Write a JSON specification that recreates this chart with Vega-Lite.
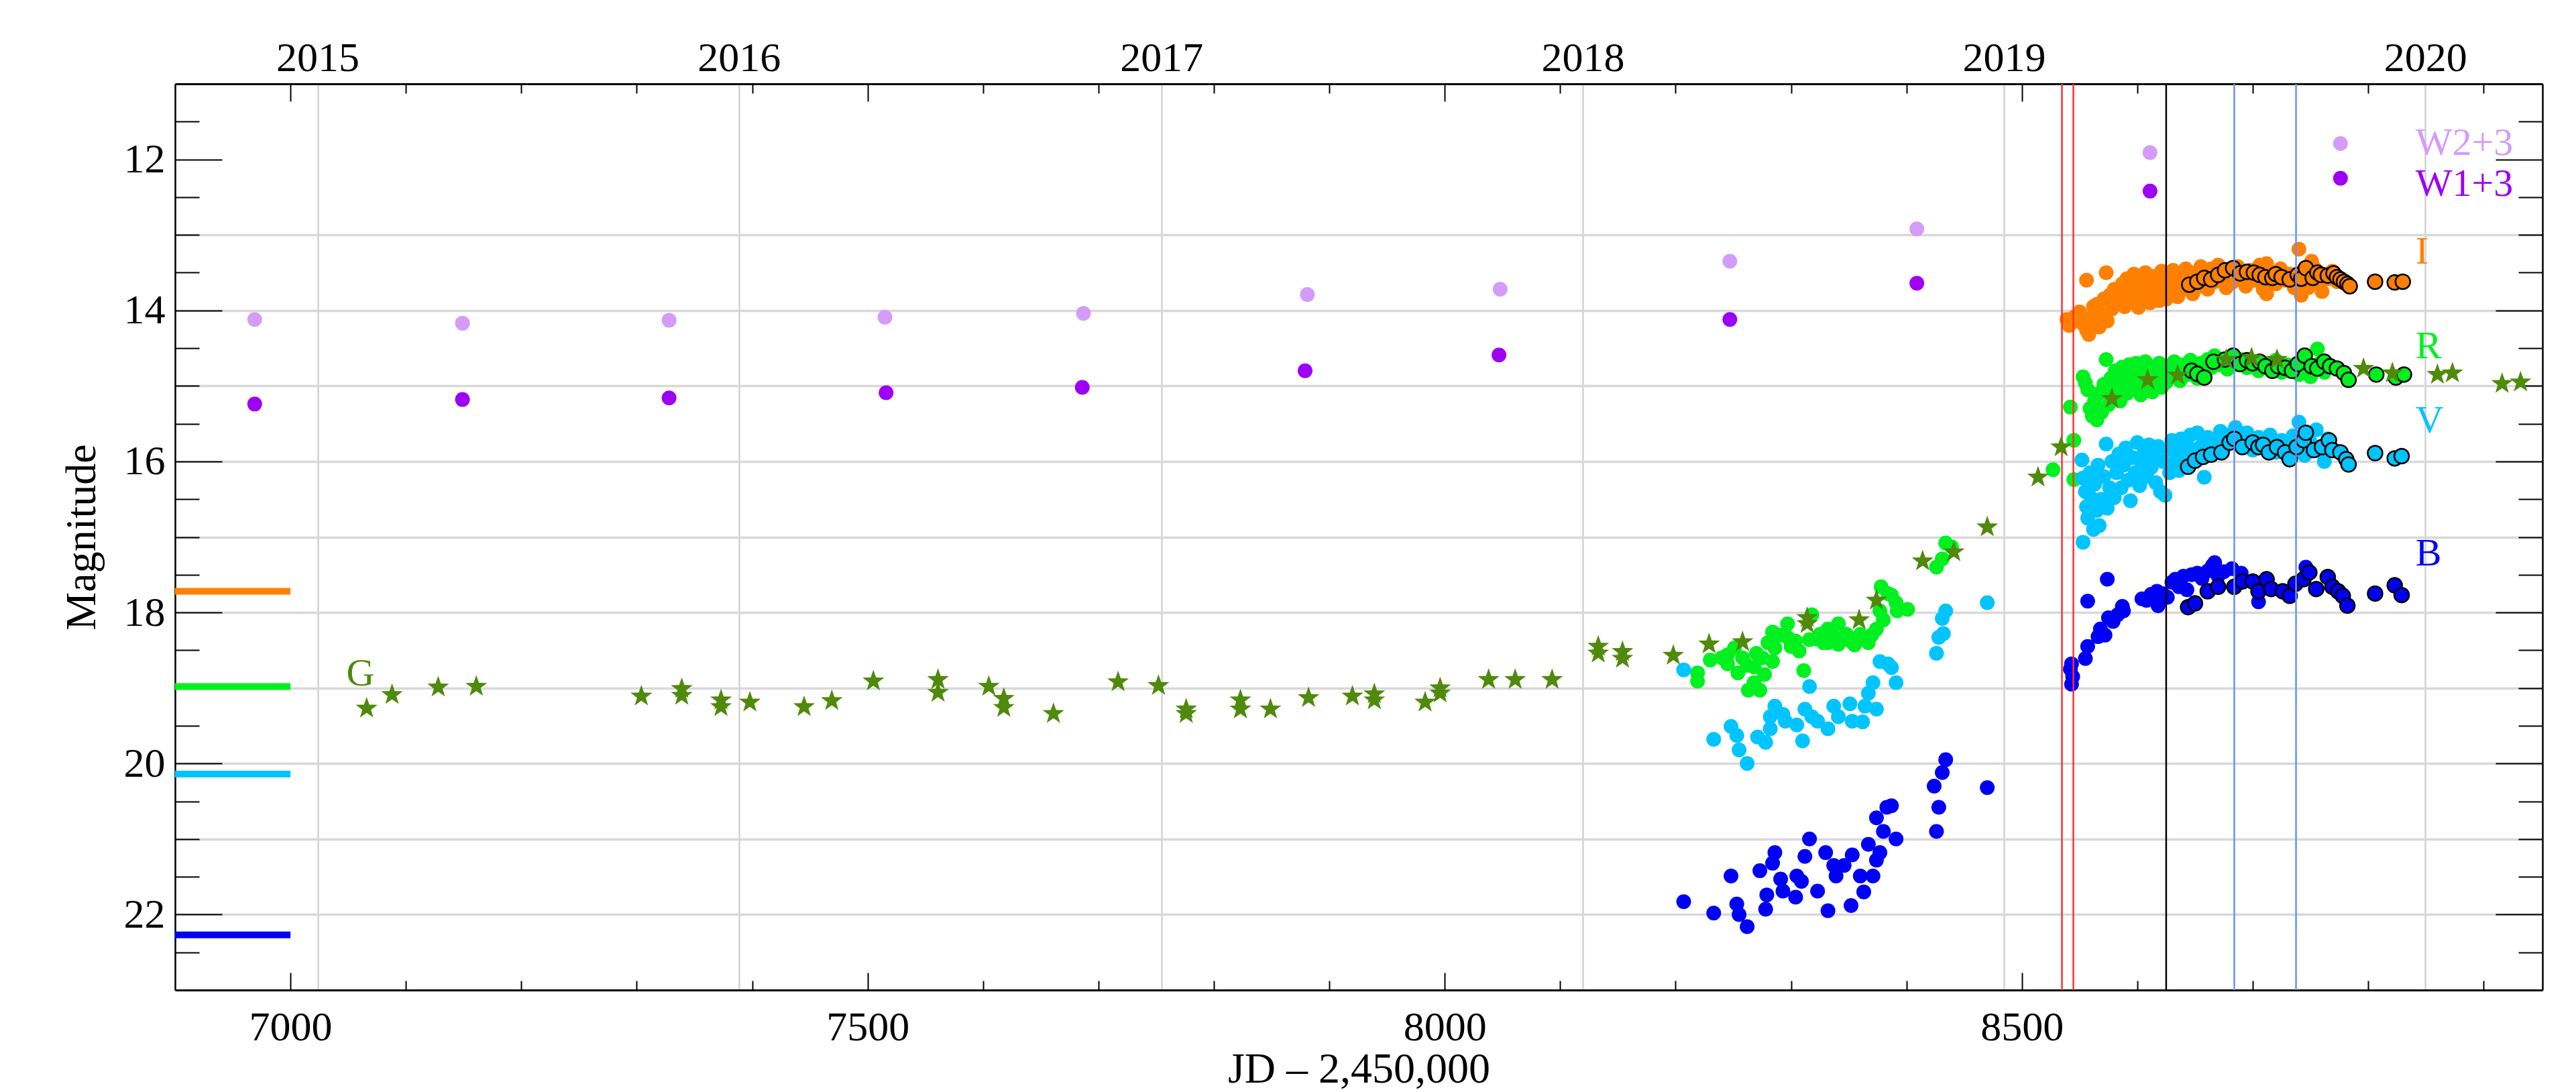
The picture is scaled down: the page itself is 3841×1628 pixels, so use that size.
{
  "$schema": "https://vega.github.io/schema/vega-lite/v6.json",
  "width": 3530,
  "height": 1351,
  "autosize": {"type": "none"},
  "padding": {"left": 261, "top": 125, "right": 50, "bottom": 152},
  "background": "#ffffff",
  "config": {
    "view": {"stroke": null},
    "font": "Liberation Serif",
    "axis": {
      "labelFont": "Liberation Serif", "titleFont": "Liberation Serif",
      "labelFontSize": 62, "titleFontSize": 64, "titleFontWeight": "normal",
      "labelColor": "#000000", "titleColor": "#000000",
      "domainColor": "#000000", "tickColor": "#000000",
      "tickWidth": 2, "domainWidth": 3,
      "labelOverlap": false, "labelFlush": false, "grid": false
    }
  },
  "datasets": {
    "wise": [
      {"band":"W2","jd":6969,"mag":14.12},{"band":"W2","jd":7149,"mag":14.17},{"band":"W2","jd":7328,"mag":14.13},{"band":"W2","jd":7515,"mag":14.09},{"band":"W2","jd":7687,"mag":14.04},{"band":"W2","jd":7881,"mag":13.79},{"band":"W2","jd":8048,"mag":13.72},{"band":"W2","jd":8247,"mag":13.35},{"band":"W2","jd":8409,"mag":12.92},{"band":"W2","jd":8611,"mag":11.91},{"band":"W2","jd":8776,"mag":11.79},
      {"band":"W1","jd":6969,"mag":15.24},{"band":"W1","jd":7149,"mag":15.18},{"band":"W1","jd":7328,"mag":15.16},{"band":"W1","jd":7516,"mag":15.09},{"band":"W1","jd":7686,"mag":15.02},{"band":"W1","jd":7879,"mag":14.8},{"band":"W1","jd":8047,"mag":14.59},{"band":"W1","jd":8247,"mag":14.12},{"band":"W1","jd":8409,"mag":13.64},{"band":"W1","jd":8611,"mag":12.42},{"band":"W1","jd":8776,"mag":12.25}
    ],
    "opt": [
      {"band":"I","jd":8539,"mag":14.12},{"band":"I","jd":8541,"mag":14.2},{"band":"I","jd":8544,"mag":14.15},{"band":"I","jd":8546,"mag":14.08},{"band":"I","jd":8550,"mag":14.02},{"band":"I","jd":8553,"mag":14.18},{"band":"I","jd":8556,"mag":14.26},{"band":"I","jd":8558,"mag":14.32},{"band":"I","jd":8556,"mag":13.6},{"band":"I","jd":8560,"mag":14.1},{"band":"I","jd":8562,"mag":13.95},{"band":"I","jd":8565,"mag":13.92},{"band":"I","jd":8567,"mag":14.22},{"band":"I","jd":8569,"mag":14.05},{"band":"I","jd":8571,"mag":13.85},{"band":"I","jd":8573,"mag":13.5},{"band":"I","jd":8574,"mag":14.14},{"band":"I","jd":8576,"mag":13.8},{"band":"I","jd":8578,"mag":13.98},{"band":"I","jd":8580,"mag":13.72},{"band":"I","jd":8583,"mag":13.9},{"band":"I","jd":8585,"mag":13.78},{"band":"I","jd":8587,"mag":13.65},{"band":"I","jd":8589,"mag":13.95},{"band":"I","jd":8591,"mag":13.58},{"band":"I","jd":8593,"mag":13.75},{"band":"I","jd":8595,"mag":13.88},{"band":"I","jd":8597,"mag":13.52},{"band":"I","jd":8599,"mag":13.68},{"band":"I","jd":8601,"mag":13.96},{"band":"I","jd":8603,"mag":13.6},{"band":"I","jd":8605,"mag":13.82},{"band":"I","jd":8607,"mag":13.5},{"band":"I","jd":8609,"mag":13.7},{"band":"I","jd":8611,"mag":13.9},{"band":"I","jd":8613,"mag":13.55},{"band":"I","jd":8615,"mag":13.78},{"band":"I","jd":8617,"mag":13.62},{"band":"I","jd":8619,"mag":13.87},{"band":"I","jd":8621,"mag":13.48},{"band":"I","jd":8623,"mag":13.7},{"band":"I","jd":8625,"mag":13.85},{"band":"I","jd":8627,"mag":13.58},{"band":"I","jd":8629,"mag":13.75},{"band":"I","jd":8631,"mag":13.47},{"band":"I","jd":8633,"mag":13.65},{"band":"I","jd":8635,"mag":13.82},{"band":"I","jd":8637,"mag":13.55},{"band":"I","jd":8640,"mag":13.72},{"band":"I","jd":8642,"mag":13.45},{"band":"I","jd":8645,"mag":13.62},{"band":"I","jd":8648,"mag":13.78},{"band":"I","jd":8650,"mag":13.5},{"band":"I","jd":8653,"mag":13.68},{"band":"I","jd":8655,"mag":13.42},{"band":"I","jd":8658,"mag":13.58},{"band":"I","jd":8661,"mag":13.72},{"band":"I","jd":8664,"mag":13.45},{"band":"I","jd":8667,"mag":13.62},{"band":"I","jd":8670,"mag":13.4},{"band":"I","jd":8674,"mag":13.55},{"band":"I","jd":8677,"mag":13.7},{"band":"I","jd":8680,"mag":13.48},{"band":"I","jd":8683,"mag":13.62},{"band":"I","jd":8687,"mag":13.42},{"band":"I","jd":8690,"mag":13.58},{"band":"I","jd":8694,"mag":13.68},{"band":"I","jd":8698,"mag":13.47},{"band":"I","jd":8702,"mag":13.6},{"band":"I","jd":8706,"mag":13.4},{"band":"I","jd":8709,"mag":13.72},{"band":"I","jd":8712,"mag":13.38},{"band":"I","jd":8712,"mag":13.78},{"band":"I","jd":8716,"mag":13.55},{"band":"I","jd":8720,"mag":13.65},{"band":"I","jd":8724,"mag":13.45},{"band":"I","jd":8728,"mag":13.6},{"band":"I","jd":8732,"mag":13.52},{"band":"I","jd":8736,"mag":13.7},{"band":"I","jd":8740,"mag":13.19},{"band":"I","jd":8742,"mag":13.8},{"band":"I","jd":8744,"mag":13.6},{"band":"I","jd":8748,"mag":13.7},{"band":"I","jd":8751,"mag":13.35},{"band":"I","jd":8754,"mag":13.45},{"band":"I","jd":8757,"mag":13.62},{"band":"I","jd":8760,"mag":13.75},{"band":"I","jd":8763,"mag":13.52},{"band":"I","jd":8766,"mag":13.58},{"band":"I","jd":8769,"mag":13.48},{"band":"I","jd":8773,"mag":13.62},
      {"band":"R","jd":8219,"mag":18.8},{"band":"R","jd":8219,"mag":18.91},{"band":"R","jd":8230,"mag":18.63},{"band":"R","jd":8240,"mag":18.6},{"band":"R","jd":8245,"mag":18.56},{"band":"R","jd":8245,"mag":18.68},{"band":"R","jd":8251,"mag":18.47},{"band":"R","jd":8254,"mag":18.8},{"band":"R","jd":8258,"mag":18.6},{"band":"R","jd":8262,"mag":18.7},{"band":"R","jd":8263,"mag":19.03},{"band":"R","jd":8268,"mag":18.72},{"band":"R","jd":8268,"mag":18.93},{"band":"R","jd":8270,"mag":18.54},{"band":"R","jd":8273,"mag":19.03},{"band":"R","jd":8275,"mag":18.6},{"band":"R","jd":8277,"mag":18.82},{"band":"R","jd":8280,"mag":18.4},{"band":"R","jd":8284,"mag":18.65},{"band":"R","jd":8284,"mag":18.26},{"band":"R","jd":8286,"mag":18.47},{"band":"R","jd":8290,"mag":18.3},{"band":"R","jd":8297,"mag":18.15},{"band":"R","jd":8297,"mag":18.33},{"band":"R","jd":8300,"mag":18.45},{"band":"R","jd":8304,"mag":18.38},{"band":"R","jd":8307,"mag":18.51},{"band":"R","jd":8311,"mag":18.77},{"band":"R","jd":8316,"mag":18.36},{"band":"R","jd":8318,"mag":18.03},{"band":"R","jd":8322,"mag":18.35},{"band":"R","jd":8325,"mag":18.29},{"band":"R","jd":8328,"mag":18.4},{"band":"R","jd":8332,"mag":18.22},{"band":"R","jd":8332,"mag":18.4},{"band":"R","jd":8336,"mag":18.3},{"band":"R","jd":8341,"mag":18.15},{"band":"R","jd":8341,"mag":18.42},{"band":"R","jd":8345,"mag":18.35},{"band":"R","jd":8348,"mag":18.29},{"band":"R","jd":8352,"mag":18.38},{"band":"R","jd":8355,"mag":18.43},{"band":"R","jd":8360,"mag":18.29},{"band":"R","jd":8362,"mag":18.35},{"band":"R","jd":8367,"mag":18.4},{"band":"R","jd":8370,"mag":18.3},{"band":"R","jd":8374,"mag":18.22},{"band":"R","jd":8377,"mag":17.98},{"band":"R","jd":8378,"mag":17.66},{"band":"R","jd":8380,"mag":18.1},{"band":"R","jd":8384,"mag":17.75},{"band":"R","jd":8387,"mag":17.77},{"band":"R","jd":8391,"mag":17.87},{"band":"R","jd":8392,"mag":17.98},{"band":"R","jd":8401,"mag":17.96},{"band":"R","jd":8426,"mag":17.4},{"band":"R","jd":8431,"mag":17.29},{"band":"R","jd":8434,"mag":17.08},{"band":"R","jd":8439,"mag":17.13},
      {"band":"R","jd":8527,"mag":16.11},{"band":"R","jd":8545,"mag":15.72},{"band":"R","jd":8545,"mag":16.24},{"band":"R","jd":8542,"mag":15.28},{"band":"R","jd":8553,"mag":14.88},{"band":"R","jd":8555,"mag":14.96},{"band":"R","jd":8557,"mag":15.05},{"band":"R","jd":8559,"mag":15.3},{"band":"R","jd":8561,"mag":15.4},{"band":"R","jd":8563,"mag":15.2},{"band":"R","jd":8565,"mag":15.45},{"band":"R","jd":8567,"mag":15.1},{"band":"R","jd":8569,"mag":15.35},{"band":"R","jd":8571,"mag":14.98},{"band":"R","jd":8573,"mag":14.65},{"band":"R","jd":8575,"mag":15.25},{"band":"R","jd":8577,"mag":14.9},{"band":"R","jd":8579,"mag":15.12},{"band":"R","jd":8581,"mag":14.8},{"band":"R","jd":8583,"mag":15.02},{"band":"R","jd":8585,"mag":15.2},{"band":"R","jd":8587,"mag":14.75},{"band":"R","jd":8589,"mag":14.92},{"band":"R","jd":8591,"mag":15.1},{"band":"R","jd":8593,"mag":14.72},{"band":"R","jd":8595,"mag":14.85},{"band":"R","jd":8597,"mag":15.05},{"band":"R","jd":8599,"mag":14.7},{"band":"R","jd":8601,"mag":14.95},{"band":"R","jd":8603,"mag":15.12},{"band":"R","jd":8605,"mag":14.8},{"band":"R","jd":8607,"mag":14.68},{"band":"R","jd":8609,"mag":14.98},{"band":"R","jd":8611,"mag":14.86},{"band":"R","jd":8613,"mag":15.08},{"band":"R","jd":8615,"mag":14.75},{"band":"R","jd":8617,"mag":14.92},{"band":"R","jd":8619,"mag":14.7},{"band":"R","jd":8621,"mag":15.02},{"band":"R","jd":8623,"mag":14.82},{"band":"R","jd":8625,"mag":14.95},{"band":"R","jd":8628,"mag":14.73},{"band":"R","jd":8630,"mag":14.88},{"band":"R","jd":8632,"mag":14.68},{"band":"R","jd":8635,"mag":14.8},{"band":"R","jd":8637,"mag":14.93},{"band":"R","jd":8640,"mag":14.72},{"band":"R","jd":8643,"mag":14.85},{"band":"R","jd":8646,"mag":14.66},{"band":"R","jd":8649,"mag":14.78},{"band":"R","jd":8652,"mag":14.9},{"band":"R","jd":8655,"mag":14.7},{"band":"R","jd":8658,"mag":14.82},{"band":"R","jd":8661,"mag":14.65},{"band":"R","jd":8664,"mag":14.76},{"band":"R","jd":8667,"mag":14.6},{"band":"R","jd":8670,"mag":14.72},{"band":"R","jd":8674,"mag":14.66},{"band":"R","jd":8678,"mag":14.78},{"band":"R","jd":8682,"mag":14.62},{"band":"R","jd":8686,"mag":14.72},{"band":"R","jd":8690,"mag":14.65},{"band":"R","jd":8695,"mag":14.76},{"band":"R","jd":8700,"mag":14.68},{"band":"R","jd":8705,"mag":14.8},{"band":"R","jd":8710,"mag":14.7},{"band":"R","jd":8715,"mag":14.78},{"band":"R","jd":8720,"mag":14.66},{"band":"R","jd":8725,"mag":14.82},{"band":"R","jd":8730,"mag":14.72},{"band":"R","jd":8735,"mag":14.8},{"band":"R","jd":8740,"mag":14.85},{"band":"R","jd":8745,"mag":14.75},{"band":"R","jd":8750,"mag":14.88},{"band":"R","jd":8756,"mag":14.51},{"band":"R","jd":8758,"mag":14.7},{"band":"R","jd":8762,"mag":14.82},{"band":"R","jd":8766,"mag":14.76},
      {"band":"V","jd":8207,"mag":18.76},{"band":"V","jd":8233,"mag":19.68},{"band":"V","jd":8248,"mag":19.51},{"band":"V","jd":8253,"mag":19.63},{"band":"V","jd":8255,"mag":19.82},{"band":"V","jd":8262,"mag":20.0},{"band":"V","jd":8271,"mag":19.65},{"band":"V","jd":8278,"mag":19.72},{"band":"V","jd":8282,"mag":19.54},{"band":"V","jd":8282,"mag":19.38},{"band":"V","jd":8286,"mag":19.24},{"band":"V","jd":8293,"mag":19.35},{"band":"V","jd":8295,"mag":19.44},{"band":"V","jd":8305,"mag":19.49},{"band":"V","jd":8310,"mag":19.7},{"band":"V","jd":8312,"mag":19.28},{"band":"V","jd":8316,"mag":18.98},{"band":"V","jd":8318,"mag":19.38},{"band":"V","jd":8323,"mag":19.44},{"band":"V","jd":8332,"mag":19.54},{"band":"V","jd":8337,"mag":19.24},{"band":"V","jd":8341,"mag":19.38},{"band":"V","jd":8351,"mag":19.21},{"band":"V","jd":8353,"mag":19.44},{"band":"V","jd":8362,"mag":19.45},{"band":"V","jd":8364,"mag":19.24},{"band":"V","jd":8367,"mag":19.07},{"band":"V","jd":8371,"mag":18.93},{"band":"V","jd":8374,"mag":19.28},{"band":"V","jd":8377,"mag":18.65},{"band":"V","jd":8384,"mag":18.68},{"band":"V","jd":8387,"mag":18.73},{"band":"V","jd":8391,"mag":18.93},{"band":"V","jd":8426,"mag":18.54},{"band":"V","jd":8428,"mag":18.33},{"band":"V","jd":8432,"mag":18.28},{"band":"V","jd":8431,"mag":18.08},{"band":"V","jd":8434,"mag":17.98},{"band":"V","jd":8470,"mag":17.87},
      {"band":"V","jd":8553,"mag":17.07},{"band":"V","jd":8552,"mag":15.98},{"band":"V","jd":8553,"mag":16.22},{"band":"V","jd":8555,"mag":16.4},{"band":"V","jd":8556,"mag":16.6},{"band":"V","jd":8557,"mag":16.75},{"band":"V","jd":8559,"mag":16.15},{"band":"V","jd":8560,"mag":16.48},{"band":"V","jd":8562,"mag":16.9},{"band":"V","jd":8563,"mag":16.3},{"band":"V","jd":8565,"mag":16.65},{"band":"V","jd":8566,"mag":16.05},{"band":"V","jd":8567,"mag":16.85},{"band":"V","jd":8569,"mag":16.5},{"band":"V","jd":8571,"mag":16.2},{"band":"V","jd":8573,"mag":15.77},{"band":"V","jd":8574,"mag":16.62},{"band":"V","jd":8576,"mag":16.35},{"band":"V","jd":8578,"mag":16.0},{"band":"V","jd":8580,"mag":16.48},{"band":"V","jd":8582,"mag":16.15},{"band":"V","jd":8584,"mag":15.9},{"band":"V","jd":8586,"mag":16.35},{"band":"V","jd":8588,"mag":16.05},{"band":"V","jd":8590,"mag":15.82},{"band":"V","jd":8592,"mag":16.25},{"band":"V","jd":8594,"mag":16.52},{"band":"V","jd":8596,"mag":15.95},{"band":"V","jd":8598,"mag":16.15},{"band":"V","jd":8600,"mag":15.75},{"band":"V","jd":8602,"mag":16.32},{"band":"V","jd":8604,"mag":16.02},{"band":"V","jd":8606,"mag":15.85},{"band":"V","jd":8608,"mag":16.2},{"band":"V","jd":8610,"mag":15.78},{"band":"V","jd":8612,"mag":16.08},{"band":"V","jd":8614,"mag":15.92},{"band":"V","jd":8616,"mag":16.28},{"band":"V","jd":8618,"mag":15.8},{"band":"V","jd":8620,"mag":16.4},{"band":"V","jd":8622,"mag":16.0},{"band":"V","jd":8624,"mag":16.45},{"band":"V","jd":8626,"mag":15.85},{"band":"V","jd":8628,"mag":16.15},{"band":"V","jd":8630,"mag":15.72},{"band":"V","jd":8632,"mag":16.02},{"band":"V","jd":8634,"mag":15.88},{"band":"V","jd":8636,"mag":16.12},{"band":"V","jd":8638,"mag":15.7},{"band":"V","jd":8640,"mag":15.95},{"band":"V","jd":8643,"mag":15.78},{"band":"V","jd":8646,"mag":15.65},{"band":"V","jd":8649,"mag":15.9},{"band":"V","jd":8652,"mag":15.62},{"band":"V","jd":8655,"mag":15.8},{"band":"V","jd":8658,"mag":16.21},{"band":"V","jd":8661,"mag":15.68},{"band":"V","jd":8664,"mag":15.85},{"band":"V","jd":8668,"mag":15.72},{"band":"V","jd":8672,"mag":15.6},{"band":"V","jd":8676,"mag":15.8},{"band":"V","jd":8680,"mag":15.65},{"band":"V","jd":8685,"mag":15.55},{"band":"V","jd":8690,"mag":15.75},{"band":"V","jd":8695,"mag":15.62},{"band":"V","jd":8700,"mag":15.85},{"band":"V","jd":8705,"mag":15.68},{"band":"V","jd":8710,"mag":15.78},{"band":"V","jd":8715,"mag":15.65},{"band":"V","jd":8720,"mag":15.88},{"band":"V","jd":8725,"mag":15.72},{"band":"V","jd":8730,"mag":15.82},{"band":"V","jd":8735,"mag":15.66},{"band":"V","jd":8740,"mag":15.48},{"band":"V","jd":8745,"mag":15.92},{"band":"V","jd":8750,"mag":15.75},{"band":"V","jd":8755,"mag":15.58},{"band":"V","jd":8760,"mag":15.85},{"band":"V","jd":8762,"mag":16.0},{"band":"V","jd":8765,"mag":15.7},
      {"band":"B","jd":8207,"mag":21.83},{"band":"B","jd":8233,"mag":21.98},{"band":"B","jd":8248,"mag":21.49},{"band":"B","jd":8253,"mag":21.86},{"band":"B","jd":8255,"mag":22.0},{"band":"B","jd":8262,"mag":22.16},{"band":"B","jd":8273,"mag":21.42},{"band":"B","jd":8278,"mag":21.93},{"band":"B","jd":8279,"mag":21.74},{"band":"B","jd":8284,"mag":21.32},{"band":"B","jd":8286,"mag":21.18},{"band":"B","jd":8291,"mag":21.53},{"band":"B","jd":8293,"mag":21.69},{"band":"B","jd":8304,"mag":21.77},{"band":"B","jd":8305,"mag":21.49},{"band":"B","jd":8309,"mag":21.56},{"band":"B","jd":8312,"mag":21.23},{"band":"B","jd":8316,"mag":21.0},{"band":"B","jd":8323,"mag":21.69},{"band":"B","jd":8330,"mag":21.18},{"band":"B","jd":8332,"mag":21.95},{"band":"B","jd":8337,"mag":21.35},{"band":"B","jd":8339,"mag":21.49},{"band":"B","jd":8346,"mag":21.35},{"band":"B","jd":8353,"mag":21.21},{"band":"B","jd":8352,"mag":21.88},{"band":"B","jd":8360,"mag":21.49},{"band":"B","jd":8363,"mag":21.7},{"band":"B","jd":8367,"mag":21.07},{"band":"B","jd":8371,"mag":21.49},{"band":"B","jd":8374,"mag":21.28},{"band":"B","jd":8377,"mag":21.18},{"band":"B","jd":8374,"mag":20.72},{"band":"B","jd":8380,"mag":20.9},{"band":"B","jd":8383,"mag":20.58},{"band":"B","jd":8387,"mag":20.56},{"band":"B","jd":8391,"mag":21.0},{"band":"B","jd":8424,"mag":20.3},{"band":"B","jd":8428,"mag":20.58},{"band":"B","jd":8426,"mag":20.9},{"band":"B","jd":8431,"mag":20.12},{"band":"B","jd":8434,"mag":19.95},{"band":"B","jd":8470,"mag":20.32},
      {"band":"B","jd":8542,"mag":18.75},{"band":"B","jd":8543,"mag":18.95},{"band":"B","jd":8544,"mag":18.85},{"band":"B","jd":8543,"mag":18.68},{"band":"B","jd":8555,"mag":18.61},{"band":"B","jd":8557,"mag":18.45},{"band":"B","jd":8557,"mag":17.85},{"band":"B","jd":8566,"mag":18.32},{"band":"B","jd":8568,"mag":18.22},{"band":"B","jd":8572,"mag":18.3},{"band":"B","jd":8574,"mag":17.56},{"band":"B","jd":8575,"mag":18.07},{"band":"B","jd":8579,"mag":18.12},{"band":"B","jd":8583,"mag":18.03},{"band":"B","jd":8587,"mag":17.92},{"band":"B","jd":8588,"mag":17.98},{"band":"B","jd":8604,"mag":17.82},{"band":"B","jd":8608,"mag":17.84},{"band":"B","jd":8612,"mag":17.76},{"band":"B","jd":8617,"mag":17.72},{"band":"B","jd":8618,"mag":17.91},{"band":"B","jd":8622,"mag":17.75},{"band":"B","jd":8626,"mag":17.8},{"band":"B","jd":8630,"mag":17.6},{"band":"B","jd":8633,"mag":17.56},{"band":"B","jd":8636,"mag":17.66},{"band":"B","jd":8640,"mag":17.52},{"band":"B","jd":8643,"mag":17.7},{"band":"B","jd":8647,"mag":17.5},{"band":"B","jd":8652,"mag":17.48},{"band":"B","jd":8656,"mag":17.55},{"band":"B","jd":8661,"mag":17.45},{"band":"B","jd":8665,"mag":17.38},{"band":"B","jd":8667,"mag":17.34},{"band":"B","jd":8670,"mag":17.52},{"band":"B","jd":8675,"mag":17.46},{"band":"B","jd":8682,"mag":17.42},{"band":"B","jd":8690,"mag":17.48},{"band":"B","jd":8705,"mag":17.86},{"band":"B","jd":8746,"mag":17.4}
    ],
    "circ": [
      {"band":"I","jd":8645,"mag":13.66},{"band":"I","jd":8652,"mag":13.62},{"band":"I","jd":8658,"mag":13.57},{"band":"I","jd":8664,"mag":13.59},{"band":"I","jd":8670,"mag":13.53},{"band":"I","jd":8676,"mag":13.47},{"band":"I","jd":8683,"mag":13.44},{"band":"I","jd":8689,"mag":13.51},{"band":"I","jd":8695,"mag":13.49},{"band":"I","jd":8701,"mag":13.5},{"band":"I","jd":8706,"mag":13.53},{"band":"I","jd":8711,"mag":13.56},{"band":"I","jd":8717,"mag":13.57},{"band":"I","jd":8720,"mag":13.52},{"band":"I","jd":8725,"mag":13.56},{"band":"I","jd":8732,"mag":13.59},{"band":"I","jd":8739,"mag":13.53},{"band":"I","jd":8742,"mag":13.58},{"band":"I","jd":8746,"mag":13.44},{"band":"I","jd":8752,"mag":13.57},{"band":"I","jd":8756,"mag":13.5},{"band":"I","jd":8759,"mag":13.53},{"band":"I","jd":8765,"mag":13.54},{"band":"I","jd":8770,"mag":13.51},{"band":"I","jd":8773,"mag":13.56},{"band":"I","jd":8776,"mag":13.59},{"band":"I","jd":8779,"mag":13.62},{"band":"I","jd":8782,"mag":13.65},{"band":"I","jd":8784,"mag":13.68},{"band":"I","jd":8806,"mag":13.62},{"band":"I","jd":8823,"mag":13.63},{"band":"I","jd":8830,"mag":13.62},
      {"band":"R","jd":8647,"mag":14.8},{"band":"R","jd":8652,"mag":14.84},{"band":"R","jd":8658,"mag":14.89},{"band":"R","jd":8666,"mag":14.68},{"band":"R","jd":8676,"mag":14.65},{"band":"R","jd":8683,"mag":14.6},{"band":"R","jd":8689,"mag":14.71},{"band":"R","jd":8695,"mag":14.66},{"band":"R","jd":8700,"mag":14.7},{"band":"R","jd":8706,"mag":14.68},{"band":"R","jd":8711,"mag":14.74},{"band":"R","jd":8717,"mag":14.8},{"band":"R","jd":8722,"mag":14.74},{"band":"R","jd":8728,"mag":14.76},{"band":"R","jd":8734,"mag":14.8},{"band":"R","jd":8739,"mag":14.71},{"band":"R","jd":8745,"mag":14.6},{"band":"R","jd":8751,"mag":14.74},{"band":"R","jd":8756,"mag":14.77},{"band":"R","jd":8762,"mag":14.68},{"band":"R","jd":8767,"mag":14.74},{"band":"R","jd":8773,"mag":14.77},{"band":"R","jd":8779,"mag":14.83},{"band":"R","jd":8783,"mag":14.92},{"band":"R","jd":8807,"mag":14.85},{"band":"R","jd":8824,"mag":14.89},{"band":"R","jd":8831,"mag":14.85},
      {"band":"V","jd":8644,"mag":16.07},{"band":"V","jd":8650,"mag":15.99},{"band":"V","jd":8657,"mag":15.94},{"band":"V","jd":8664,"mag":15.91},{"band":"V","jd":8673,"mag":15.88},{"band":"V","jd":8680,"mag":15.75},{"band":"V","jd":8684,"mag":15.7},{"band":"V","jd":8691,"mag":15.81},{"band":"V","jd":8700,"mag":15.75},{"band":"V","jd":8705,"mag":15.81},{"band":"V","jd":8709,"mag":15.78},{"band":"V","jd":8714,"mag":15.88},{"band":"V","jd":8721,"mag":15.81},{"band":"V","jd":8728,"mag":15.88},{"band":"V","jd":8732,"mag":15.97},{"band":"V","jd":8738,"mag":15.81},{"band":"V","jd":8744,"mag":15.72},{"band":"V","jd":8746,"mag":15.62},{"band":"V","jd":8753,"mag":15.85},{"band":"V","jd":8760,"mag":15.81},{"band":"V","jd":8766,"mag":15.72},{"band":"V","jd":8769,"mag":15.85},{"band":"V","jd":8776,"mag":15.88},{"band":"V","jd":8781,"mag":15.97},{"band":"V","jd":8783,"mag":16.04},{"band":"V","jd":8806,"mag":15.89},{"band":"V","jd":8823,"mag":15.96},{"band":"V","jd":8829,"mag":15.93},
      {"band":"B","jd":8644,"mag":17.93},{"band":"B","jd":8650,"mag":17.88},{"band":"B","jd":8661,"mag":17.72},{"band":"B","jd":8670,"mag":17.66},{"band":"B","jd":8684,"mag":17.66},{"band":"B","jd":8691,"mag":17.59},{"band":"B","jd":8700,"mag":17.59},{"band":"B","jd":8705,"mag":17.72},{"band":"B","jd":8712,"mag":17.56},{"band":"B","jd":8716,"mag":17.69},{"band":"B","jd":8726,"mag":17.72},{"band":"B","jd":8732,"mag":17.78},{"band":"B","jd":8737,"mag":17.62},{"band":"B","jd":8744,"mag":17.56},{"band":"B","jd":8749,"mag":17.47},{"band":"B","jd":8755,"mag":17.69},{"band":"B","jd":8765,"mag":17.53},{"band":"B","jd":8769,"mag":17.66},{"band":"B","jd":8774,"mag":17.72},{"band":"B","jd":8778,"mag":17.78},{"band":"B","jd":8782,"mag":17.91},{"band":"B","jd":8806,"mag":17.75},{"band":"B","jd":8823,"mag":17.64},{"band":"B","jd":8829,"mag":17.77}
    ],
    "gaia": [
      {"jd":7066,"mag":19.27},{"jd":7088,"mag":19.09},{"jd":7128,"mag":18.99},{"jd":7161,"mag":18.98},{"jd":7304,"mag":19.11},{"jd":7339,"mag":19.01},{"jd":7339,"mag":19.1},{"jd":7373,"mag":19.16},{"jd":7373,"mag":19.25},{"jd":7398,"mag":19.19},{"jd":7445,"mag":19.25},{"jd":7469,"mag":19.17},{"jd":7505,"mag":18.91},{"jd":7561,"mag":18.89},{"jd":7561,"mag":19.06},{"jd":7605,"mag":18.98},{"jd":7618,"mag":19.14},{"jd":7618,"mag":19.26},{"jd":7661,"mag":19.34},{"jd":7717,"mag":18.92},{"jd":7752,"mag":18.97},{"jd":7776,"mag":19.28},{"jd":7776,"mag":19.34},{"jd":7823,"mag":19.16},{"jd":7823,"mag":19.28},{"jd":7849,"mag":19.28},{"jd":7882,"mag":19.13},{"jd":7920,"mag":19.11},{"jd":7939,"mag":19.08},{"jd":7939,"mag":19.16},{"jd":7983,"mag":19.19},{"jd":7996,"mag":19.07},{"jd":7996,"mag":19.0},{"jd":8038,"mag":18.89},{"jd":8061,"mag":18.89},{"jd":8093,"mag":18.89},{"jd":8133,"mag":18.45},{"jd":8133,"mag":18.54},{"jd":8154,"mag":18.52},{"jd":8154,"mag":18.61},{"jd":8198,"mag":18.57},{"jd":8229,"mag":18.42},{"jd":8258,"mag":18.39},{"jd":8314,"mag":18.07},{"jd":8314,"mag":18.15},{"jd":8359,"mag":18.1},{"jd":8374,"mag":17.84},{"jd":8414,"mag":17.32},{"jd":8441,"mag":17.2},{"jd":8470,"mag":16.87},{"jd":8514,"mag":16.21},{"jd":8534,"mag":15.81},{"jd":8578,"mag":15.17},{"jd":8609,"mag":14.92},{"jd":8635,"mag":14.86},{"jd":8677,"mag":14.65},{"jd":8699,"mag":14.63},{"jd":8721,"mag":14.65},{"jd":8796,"mag":14.77},{"jd":8821,"mag":14.83},{"jd":8860,"mag":14.85},{"jd":8873,"mag":14.83},{"jd":8916,"mag":14.97},{"jd":8932,"mag":14.95}
    ],
    "vlines": [
      {"jd":8534.7,"kind":"red"},{"jd":8544.6,"kind":"red"},{"jd":8625,"kind":"black"},{"jd":8684,"kind":"blue"},{"jd":8737.5,"kind":"blue"}
    ],
    "labels": [
      {"label":"W2+3","jd":8841,"mag":11.79,"band":"W2"},{"label":"W1+3","jd":8841,"mag":12.33,"band":"W1"},{"label":"I","jd":8841,"mag":13.23,"band":"I"},{"label":"R","jd":8841,"mag":14.48,"band":"R"},{"label":"V","jd":8841,"mag":15.47,"band":"V"},{"label":"B","jd":8841,"mag":17.23,"band":"B"},{"label":"G","jd":7048.5,"mag":18.82,"band":"G"}
    ],
    "refs": [
      {"band":"I","mag":17.72},{"band":"R","mag":18.98},{"band":"V","mag":20.14},{"band":"B","mag":22.27}
    ]
  },
  "resolve": {"axis": {"x": "independent", "y": "independent"}},
  "layer": [
    {
      "data": {"name": "wise"},
      "mark": {"type": "circle", "size": 484, "opacity": 1},
      "encoding": {
        "x": {"field": "jd", "type": "quantitative", "scale": {"domain": [6900, 8951], "zero": false, "nice": false},
              "axis": {"orient": "top", "values": [7023.5, 7388.5, 7754.5, 8119.5, 8484.5, 8849.5], "labelExpr": "'' + (round((datum.value - 7023.5) / 365.25) + 2015)", "ticks": false, "grid": true, "gridColor": "#d2d2d2", "gridWidth": 2.5, "domain": true, "labelPadding": 7, "title": null,
                       "encode": {"labels": {"update": {"stroke": {"value": "#000000"}, "strokeWidth": {"value": 1.2}}}}}},
        "y": {"field": "mag", "type": "quantitative", "scale": {"domain": [11, 23], "reverse": true, "zero": false, "nice": false},
              "axis": {"orient": "left", "values": [13, 14, 15, 16, 17, 18, 19, 20, 21, 22], "grid": true, "gridColor": "#d8d8d8", "gridWidth": 3.5, "ticks": false, "labels": false, "domain": false, "title": null}},
        "color": {"field": "band", "type": "nominal", "legend": null,
                  "scale": {"domain": ["W2", "W1", "I", "R", "V", "B", "G"], "range": ["#d49cf8", "#9d00f5", "#ff8000", "#00f020", "#00c4ff", "#0000f5", "#4f8a0b"]}}
      }
    },
    {
      "data": {"name": "opt"},
      "mark": {"type": "circle", "size": 484, "opacity": 1},
      "encoding": {
        "x": {"field": "jd", "type": "quantitative", "scale": {"domain": [6900, 8951], "zero": false, "nice": false},
              "axis": {"orient": "bottom", "values": [7000, 7500, 8000, 8500], "format": "d", "ticks": false, "domain": true, "labelPadding": 25, "title": "JD – 2,450,000", "titlePadding": 0,
                       "encode": {"labels": {"update": {"stroke": {"value": "#000000"}, "strokeWidth": {"value": 1.2}}}, "title": {"update": {"stroke": {"value": "#000000"}, "strokeWidth": {"value": 0.7}}}}}},
        "y": {"field": "mag", "type": "quantitative", "scale": {"domain": [11, 23], "reverse": true, "zero": false, "nice": false},
              "axis": {"orient": "left", "values": [12, 14, 16, 18, 20, 22], "ticks": false, "domain": true, "domainWidth": 2.5, "labelPadding": 15, "title": "Magnitude", "titlePadding": 30,
                       "encode": {"labels": {"update": {"stroke": {"value": "#000000"}, "strokeWidth": {"value": 1.2}}}, "title": {"update": {"stroke": {"value": "#000000"}, "strokeWidth": {"value": 0.7}}}}}},
        "color": {"field": "band", "type": "nominal", "legend": null}
      }
    },
    {
      "data": {"name": "circ"},
      "mark": {"type": "point", "shape": "circle", "filled": true, "size": 484, "opacity": 1, "stroke": "#000000", "strokeWidth": 2.5},
      "encoding": {
        "x": {"field": "jd", "type": "quantitative", "scale": {"domain": [6900, 8951], "zero": false, "nice": false},
              "axis": {"orient": "bottom", "values": [7100, 7200, 7300, 7400, 7600, 7700, 7800, 7900, 8100, 8200, 8300, 8400, 8600, 8700, 8800, 8900], "tickSize": -14, "labels": false, "domain": false, "title": null}},
        "y": {"field": "mag", "type": "quantitative", "scale": {"domain": [11, 23], "reverse": true, "zero": false, "nice": false},
              "axis": {"orient": "left", "values": [11.5, 12.5, 13, 13.5, 14.5, 15, 15.5, 16.5, 17, 17.5, 18.5, 19, 19.5, 20.5, 21, 21.5, 22.5], "tickSize": -36, "labels": false, "domain": false, "title": null}},
        "color": {"field": "band", "type": "nominal", "legend": null}
      }
    },
    {
      "data": {"name": "vlines"},
      "mark": {"type": "rule", "strokeWidth": 2.5},
      "encoding": {
        "x": {"field": "jd", "type": "quantitative", "scale": {"domain": [6900, 8951], "zero": false, "nice": false},
              "axis": {"orient": "top", "values": [7100, 7200, 7300, 7400, 7600, 7700, 7800, 7900, 8100, 8200, 8300, 8400, 8600, 8700, 8800, 8900], "tickSize": -14, "labels": false, "domain": false, "title": null}},
        "stroke": {"field": "kind", "type": "nominal", "legend": null,
                   "scale": {"domain": ["red", "black", "blue"], "range": ["#ff3030", "#000000", "#6e8ff0"]}}
      }
    },
    {
      "data": {"name": "gaia"},
      "mark": {"type": "point", "shape": "M0,-1L0.235,-0.324L0.951,-0.309L0.38,0.124L0.588,0.809L0,0.4L-0.588,0.809L-0.38,0.124L-0.951,-0.309L-0.235,-0.324Z", "filled": true, "size": 1156, "opacity": 1, "color": "#4f8a0b"},
      "encoding": {
        "x": {"field": "jd", "type": "quantitative", "scale": {"domain": [6900, 8951], "zero": false, "nice": false},
              "axis": {"orient": "bottom", "values": [7000, 7500, 8000, 8500], "tickSize": -26, "labels": false, "domain": false, "title": null}},
        "y": {"field": "mag", "type": "quantitative", "scale": {"domain": [11, 23], "reverse": true, "zero": false, "nice": false},
              "axis": {"orient": "left", "values": [12, 14, 16, 18, 20, 22], "tickSize": -70, "labels": false, "domain": false, "title": null}}
      }
    },
    {
      "data": {"name": "labels"},
      "mark": {"type": "text", "align": "left", "baseline": "middle", "font": "Liberation Serif", "fontSize": 58},
      "encoding": {
        "x": {"field": "jd", "type": "quantitative", "scale": {"domain": [6900, 8951], "zero": false, "nice": false},
              "axis": {"orient": "top", "values": [7000, 7500, 8000, 8500], "tickSize": -26, "labels": false, "domain": false, "title": null}},
        "y": {"field": "mag", "type": "quantitative", "scale": {"domain": [11, 23], "reverse": true, "zero": false, "nice": false},
              "axis": {"orient": "right", "values": [12, 14, 16, 18, 20, 22], "tickSize": -70, "labels": false, "domain": true, "domainWidth": 2.5, "title": null}},
        "text": {"field": "label", "type": "nominal"},
        "color": {"field": "band", "type": "nominal", "legend": null}
      }
    },
    {
      "data": {"name": "refs"},
      "mark": {"type": "rule", "strokeWidth": 10},
      "encoding": {
        "x": {"datum": 6900, "type": "quantitative", "scale": {"domain": [6900, 8951], "zero": false, "nice": false}, "axis": null},
        "x2": {"datum": 7000},
        "y": {"field": "mag", "type": "quantitative", "scale": {"domain": [11, 23], "reverse": true, "zero": false, "nice": false},
              "axis": {"orient": "right", "values": [11.5, 12.5, 13, 13.5, 14.5, 15, 15.5, 16.5, 17, 17.5, 18.5, 19, 19.5, 20.5, 21, 21.5, 22.5], "tickSize": -36, "labels": false, "domain": false, "title": null}},
        "color": {"field": "band", "type": "nominal", "legend": null}
      }
    }
  ]
}
